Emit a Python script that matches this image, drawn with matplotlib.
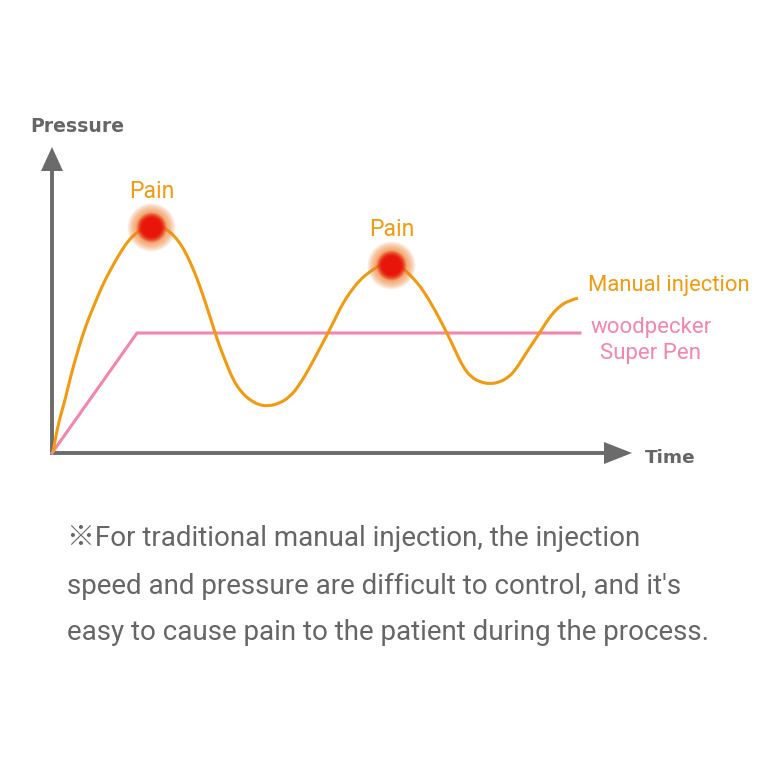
import matplotlib
matplotlib.use("Agg")
import matplotlib.pyplot as plt
from matplotlib.path import Path
from matplotlib.patches import PathPatch
import numpy as np

# ---- data (time, pressure) in chart units (origin at the axes corner) ----
manual_t = [1, 5, 9, 13, 19, 26, 34, 43, 51, 60, 68, 76, 84, 92, 100, 108, 116,
            126, 134, 143, 151, 160, 166, 173, 181, 190, 198, 207, 216, 226, 238,
            248, 258, 267, 276, 284, 291, 299, 308, 316, 325, 332, 339, 346, 353,
            362, 371, 383, 395, 403, 411, 419, 428, 438, 448, 455, 461, 468, 476,
            485, 493, 501, 508, 516, 526]
manual_p = [1, 23, 39, 53, 78, 103, 128, 150, 169, 186, 200, 212, 220, 225, 228,
            227, 223, 213, 200, 180, 158, 130, 111, 93, 73, 60, 53, 48, 47, 49, 56,
            69, 86, 103, 120, 136, 150, 162, 173, 180, 186, 190, 191, 188, 183,
            174, 163, 143, 120, 103, 86, 76, 71, 69, 71, 75, 80, 90, 103, 116, 129,
            140, 147, 152, 155]
pen_t = [0, 85, 528]
pen_p = [0, 120, 120]
pain_t = [99, 339]
pain_p = [227, 189]
pain_labels = ["Pain", "Pain"]

ORANGE = "#f39a10"
PINK = "#f585ac"
GRAY = "#6b6b6b"
TEXT = "#666666"

fig = plt.figure(figsize=(7.84, 7.84), dpi=100)
ax = fig.add_axes([0, 0, 1, 1])
ax.set_xlim(-52, 732)
ax.set_ylim(453 - 784, 453)
ax.axis("off")

# axes with arrows
ax.plot([0, 0], [-1, 285], color=GRAY, lw=2.8, solid_capstyle="butt", zorder=2)
ax.fill([-11, 11, 0], [282, 282, 306], color=GRAY, zorder=2, lw=0)
ax.plot([-2, 555], [0, 0], color=GRAY, lw=2.8, solid_capstyle="butt", zorder=2)
ax.fill([552, 552, 580], [11, -11, 0], color=GRAY, zorder=2, lw=0)

# series
ax.plot(pen_t, pen_p, color=PINK, lw=2.2, zorder=3, solid_joinstyle="miter")

# manual injection: smooth quadratic path through the read points
pts = np.column_stack([manual_t, manual_p]).astype(float)
verts = [pts[0], (pts[0] + pts[1]) / 2]
codes = [Path.MOVETO, Path.LINETO]
for i in range(1, len(pts) - 1):
    verts.append(pts[i])
    verts.append((pts[i] + pts[i + 1]) / 2 if i < len(pts) - 2 else pts[i + 1])
    codes += [Path.CURVE3, Path.CURVE3]
ax.add_patch(PathPatch(Path(verts, codes), fill=False, edgecolor=ORANGE,
                       lw=2.2, zorder=4, capstyle="butt"))
ax.plot(manual_t, manual_p, alpha=0)

# pain glow points
for t, p, lab in zip(pain_t, pain_p, pain_labels):
    for r in np.arange(24, 11, -1.0):
        ax.scatter([t], [p - 1], s=(2 * r * 0.72) ** 2, color="#f08030",
                   alpha=0.11, lw=0, zorder=5)
    for r, a in [(15, 0.18), (14, 0.25), (13, 0.3), (12, 0.4), (11, 0.55),
                 (10, 0.8), (9, 1.0)]:
        ax.scatter([t], [p - 1], s=(2 * r * 0.72) ** 2, color="#e8160a", alpha=a,
                   lw=0, zorder=6)
    ax.text(t + 1, p + 34, lab, color=ORANGE, fontsize=16.5, family="Roboto",
            ha="center", va="center")

# labels
ax.text(-22, 327, "Pressure", color=TEXT, fontsize=13.6, family="DejaVu Sans",
        fontweight="bold", ha="left", va="center")
ax.text(593, -5, "Time", color=TEXT, fontsize=13.3, family="DejaVu Sans",
        fontweight="bold", ha="left", va="center")
ax.text(536, 167, "Manual injection", color=ORANGE, fontsize=15.8, family="Roboto",
        ha="left", va="center")
ax.text(599, 126, "woodpecker", color=PINK, fontsize=16, family="Roboto",
        ha="center", va="center")
ax.text(599, 100, "Super Pen", color=PINK, fontsize=16, family="Roboto",
        ha="center", va="center")

para = ["※For traditional manual injection, the injection",
        "speed and pressure are difficult to control, and it's",
        "easy to cause pain to the patient during the process."]
for i, line in enumerate(para):
    ax.text(15, -86 - 47 * i, line, color=TEXT, fontsize=20,
            family=["Roboto", "Noto Sans CJK SC", "DejaVu Sans"],
            ha="left", va="center")

fig.savefig("out.png", dpi=100, facecolor="white")
